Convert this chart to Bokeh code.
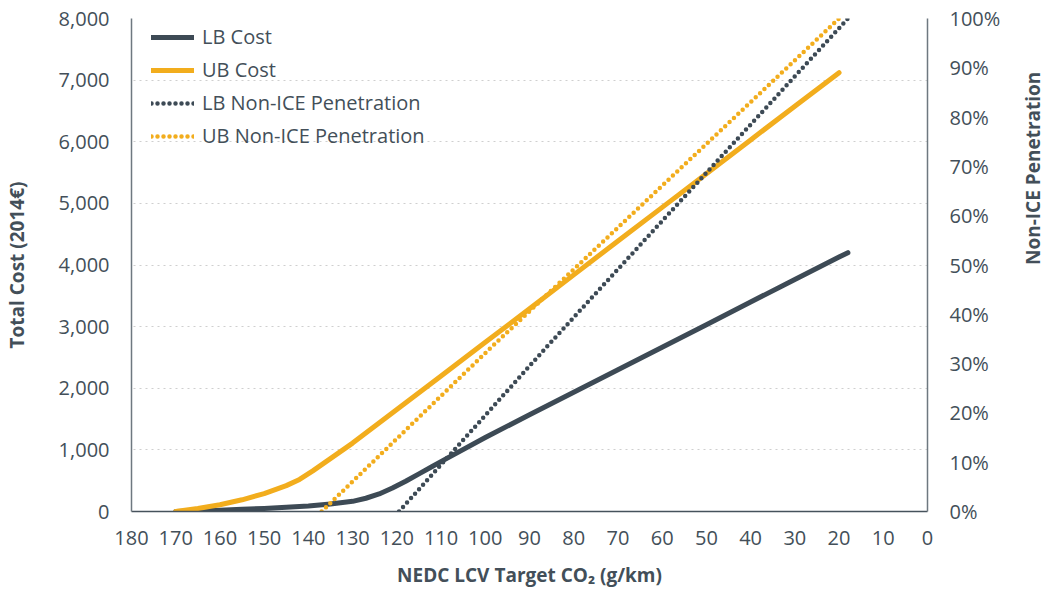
import math
from bokeh.plotting import figure
from bokeh.models import Range1d, LinearAxis, FixedTicker, NumeralTickFormatter, PrintfTickFormatter, Legend, LegendItem
from bokeh.embed import file_html
from bokeh.resources import INLINE

# ---- data ----
lb_cost_x = [170, 165, 160, 155, 150, 145, 140, 135, 130, 127, 124, 121, 118, 115, 112, 109,
             100, 90, 80, 70, 60, 50, 40, 30, 20, 18]
lb_cost_y = [0, 10, 22, 35, 50, 68, 90, 120, 165, 215, 285, 380, 490, 610, 730, 850,
             1200, 1570, 1935, 2300, 2665, 3030, 3400, 3765, 4130, 4200]

ub_cost_x = [170, 165, 160, 155, 150, 145, 142, 139, 136, 133, 130, 120, 110, 100, 90, 80, 70, 60, 50, 40, 30, 20]
ub_cost_y = [0, 50, 110, 190, 290, 420, 520, 660, 810, 960, 1110, 1655, 2200, 2745, 3290, 3840, 4390, 4935, 5480, 6030, 6575, 7120]

lb_pen_x = [119.5, 86, 18]
lb_pen_y = [0, 33.5, 100]

ub_pen_x = [137, 99, 20]
ub_pen_y = [0, 33, 100]

x_ticks = list(range(0, 181, 10))
cost_ticks = list(range(0, 8001, 1000))
pen_ticks = list(range(0, 101, 10))

# ---- style ----
DARK = "#3d4a55"
GOLD = "#f2ad1d"
TEXT = "#434f59"
FONT = "Open Sans"

p = figure(frame_width=796, frame_height=493, output_backend="svg", toolbar_location=None,
           x_range=Range1d(180, 0), y_range=Range1d(0, 8000),
           min_border_left=124, min_border_right=10, min_border_top=18, min_border_bottom=10)
p.outline_line_color = None
p.background_fill_color = "white"
p.border_fill_color = "white"
p.extra_y_ranges = {"pen": Range1d(0, 100)}

# grid
p.xgrid.grid_line_color = None
p.ygrid.ticker = FixedTicker(ticks=cost_ticks)
p.ygrid.grid_line_color = "#cfcfcf"
p.ygrid.grid_line_dash = "2 4"
p.ygrid.grid_line_width = 1.2

# lines
r_lb = p.line(lb_cost_x, lb_cost_y, line_color=DARK, line_width=5, line_cap="round", line_join="round")
r_ub = p.line(ub_cost_x, ub_cost_y, line_color=GOLD, line_width=5, line_cap="round", line_join="round")
r_lbp = p.line(lb_pen_x, lb_pen_y, y_range_name="pen", line_color=DARK, line_width=4.5,
               line_dash="0 6", line_cap="round")
r_ubp = p.line(ub_pen_x, ub_pen_y, y_range_name="pen", line_color=GOLD, line_width=4.5,
               line_dash="0 6", line_cap="round")

def style_axis(ax, line_color):
    ax.major_tick_line_color = None
    ax.minor_tick_line_color = None
    ax.axis_line_color = line_color
    ax.axis_line_width = 1.5
    ax.major_label_text_font = FONT
    ax.major_label_text_font_size = "20px"
    ax.major_label_text_color = TEXT
    ax.axis_label_text_font = FONT
    ax.axis_label_text_font_size = "19px"
    ax.axis_label_text_font_style = "bold"
    ax.axis_label_text_color = TEXT

xa = p.xaxis[0]
xa.ticker = FixedTicker(ticks=x_ticks)
xa.axis_label = "NEDC LCV Target CO\u2082 (g/km)"
style_axis(xa, "#46525c")
xa.major_label_standoff = 13
xa.axis_label_standoff = 14

ya = p.yaxis[0]
ya.ticker = FixedTicker(ticks=cost_ticks)
ya.formatter = NumeralTickFormatter(format="0,0")
ya.axis_label = "Total Cost (2014\u20ac)"
style_axis(ya, "#6e7880")
ya.major_label_standoff = 16
ya.axis_label_standoff = 26

ra = LinearAxis(y_range_name="pen", ticker=FixedTicker(ticks=pen_ticks),
                formatter=PrintfTickFormatter(format="%d%%"), axis_label="Non-ICE Penetration")
style_axis(ra, "#6e7880")
ra.major_label_standoff = 16
ra.axis_label_standoff = 30
ra.axis_label_orientation = math.pi / 2
p.add_layout(ra, "right")

legend = Legend(items=[
    LegendItem(label="LB Cost", renderers=[r_lb]),
    LegendItem(label="UB Cost", renderers=[r_ub]),
    LegendItem(label="LB Non-ICE Penetration", renderers=[r_lbp]),
    LegendItem(label="UB Non-ICE Penetration", renderers=[r_ubp]),
], location=(20, 362))
legend.border_line_color = None
legend.background_fill_alpha = 0
legend.label_text_font = FONT
legend.label_text_font_size = "20px"
legend.label_text_color = TEXT
legend.glyph_width = 43
legend.glyph_height = 20
legend.label_height = 20
legend.spacing = 6
legend.margin = 0
legend.padding = 8
legend.label_standoff = 8
p.add_layout(legend)

open("out.html", "w").write(file_html(p, INLINE))
